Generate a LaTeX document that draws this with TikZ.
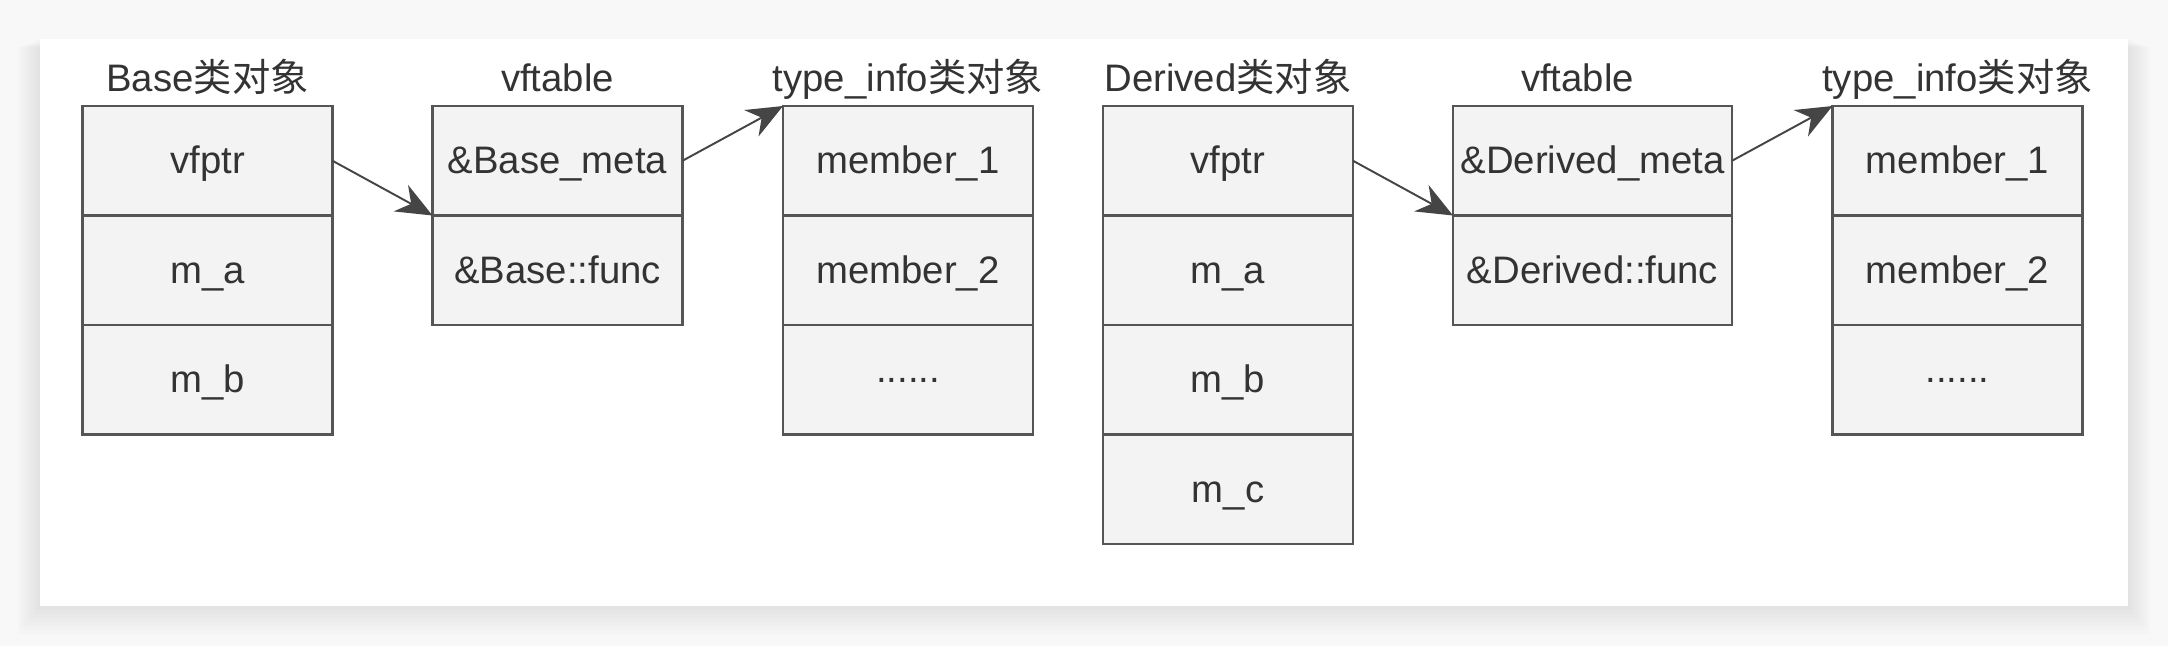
\documentclass[tikz,border=0pt]{standalone}
\usepackage{fontspec}
\setmainfont{Liberation Sans}
\newfontfamily\cjk{Noto Sans CJK SC}
\usetikzlibrary{positioning,arrows.meta}
\definecolor{cellfill}{HTML}{F3F3F3}
\definecolor{cellline}{HTML}{555555}
\definecolor{textgray}{HTML}{333333}
\definecolor{arrowc}{HTML}{454545}
\definecolor{pagebg}{HTML}{F8F8F8}
\newcommand{\moredots}{\raisebox{0.28em}{......}}
\begin{document}
\begin{tikzpicture}[
  cell/.style={draw=cellline, fill=cellfill, line width=0.65pt, minimum width=2.5cm,
               minimum height=1.095cm, inner sep=0pt, outer sep=0pt,
               text height=0.74em, text depth=0pt,
               text=textgray, font=\fontsize{10.9}{13}\selectfont},
  title/.style={text=textgray, font=\fontsize{10.9}{13}\selectfont, inner sep=0pt},
  ptr/.style={-{Stealth[length=3.6mm, width=3mm]}, draw=arrowc, fill=arrowc, line width=0.55pt}]
  % page and card
  \useasboundingbox (0,0) rectangle (21.68,-6.46);
  \fill[pagebg] (0,0) rectangle (21.68,-6.46);
  \foreach \d in {0.04,0.08,...,0.32}
    \fill[black, opacity=0.012] (0.40-\d*0.8,-0.39-\d*0.3) rectangle (21.28+\d*0.8,-6.06-\d);
  \fill[white] (0.40,-0.39) rectangle (21.28,-6.06);
  % Base object
  \node[cell] (b1) at (2.075,-1.6075) {vfptr};
  \node[cell, below=0pt of b1] (b2) {m\_a};
  \node[cell, below=0pt of b2] (b3) {m\_b};
  \node[title, above=0.145cm of b1, anchor=base] {Base{\cjk 类对象}};
  % Base vftable
  \node[cell] (vt1) at (5.575,-1.6075) {\&Base\_meta};
  \node[cell, below=0pt of vt1] (vf1) {\&Base::func};
  \node[title, above=0.145cm of vt1, anchor=base] {vftable};
  % type_info of Base
  \node[cell] (ti1) at (9.08,-1.6075) {member\_1};
  \node[cell, below=0pt of ti1] (tm1) {member\_2};
  \node[cell, below=0pt of tm1] (tx1) {\moredots};
  \node[title, above=0.145cm of ti1, anchor=base] {type\_info{\cjk 类对象}};
  % Derived object
  \node[cell] (d1) at (12.28,-1.6075) {vfptr};
  \node[cell, below=0pt of d1] (d2) {m\_a};
  \node[cell, below=0pt of d2] (d3) {m\_b};
  \node[cell, below=0pt of d3] (d4) {m\_c};
  \node[title, above=0.145cm of d1, anchor=base] {Derived{\cjk 类对象}};
  % Derived vftable
  \node[cell, minimum width=2.79cm] (vt2) at (15.925,-1.6075) {\&Derived\_meta};
  \node[cell, minimum width=2.79cm, below=0pt of vt2] (vf2) {\&Derived::func};
  \node[title, above=0.145cm of vt2, anchor=base, xshift=-0.15cm] {vftable};
  % type_info of Derived
  \node[cell] (ti2) at (19.575,-1.6075) {member\_1};
  \node[cell, below=0pt of ti2] (tm2) {member\_2};
  \node[cell, below=0pt of tm2] (tx2) {\moredots};
  \node[title, above=0.145cm of ti2, anchor=base] {type\_info{\cjk 类对象}};
  % pointers
  \draw[ptr] (b1.east) -- (vt1.south west);
  \draw[ptr] (vt1.east) -- (ti1.north west);
  \draw[ptr] (d1.east) -- (vt2.south west);
  \draw[ptr] (vt2.east) -- (ti2.north west);
\end{tikzpicture}
\end{document}
